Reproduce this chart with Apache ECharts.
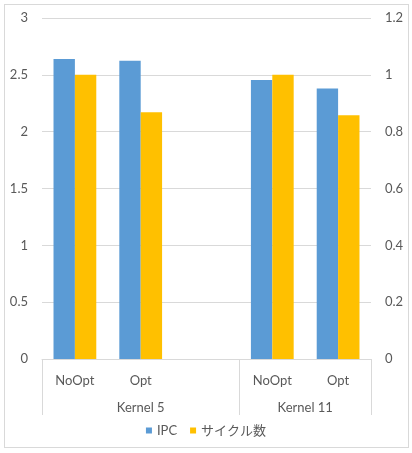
<!DOCTYPE html>
<html><head><meta charset="utf-8">
<script src="https://cdn.jsdelivr.net/npm/echarts@6/dist/echarts.min.js"></script>
<style>
html,body{margin:0;padding:0;background:#fff;}
#wrap{position:relative;width:412px;height:453px;}
#c{width:412px;height:453px;}
#frame{position:absolute;left:4px;top:4px;width:403px;height:442px;border:1px solid #d9d9d9;pointer-events:none;}
</style></head>
<body>
<div id="wrap"><div id="c"></div><div id="frame"></div></div>
<script>
const categories = ['NoOpt', 'Opt', '', 'NoOpt', 'Opt'];
const groupNames = ['Kernel 5', 'Kernel 11'];
const groupBounds = [0, 3, 5];
const groupCenters = [1.5, 4];
const ipc = [2.64, 2.625, null, 2.455, 2.38];
const cycles = [1.0, 0.868, null, 1.0, 0.858];
const leftTicks = {min: 0, max: 3, interval: 0.5};
const rightTicks = {min: 0, max: 1.2, interval: 0.2};

const font = 'Lato, "Noto Sans CJK JP", sans-serif';
const txt = '#595959';
const grid = '#d9d9d9';
const chart = echarts.init(document.getElementById('c'));
chart.setOption({
  animation: false,
  textStyle: {fontFamily: font},
  grid: {left: 42, right: 41, top: 18, bottom: 94, containLabel: false},
  legend: {
    bottom: 11, left: 'center', icon: 'rect', itemWidth: 6, itemHeight: 6, itemGap: 13,
    textStyle: {color: txt, fontSize: 13, fontFamily: font},
    data: ['IPC', 'サイクル数']
  },
  xAxis: [{
    type: 'category', data: categories, position: 'bottom',
    axisLine: {show: true, lineStyle: {color: grid}},
    axisTick: {show: false},
    axisLabel: {interval: 0, color: txt, fontSize: 13, margin: 15}
  }, {
    type: 'value', min: 0, max: 5, position: 'bottom',
    axisLine: {show: false},
    splitLine: {show: false},
    axisTick: {show: true, customValues: groupBounds, length: 56, lineStyle: {color: grid}},
    axisLabel: {
      customValues: groupCenters, color: txt, fontSize: 13, margin: 42,
      formatter: v => groupNames[groupCenters.indexOf(v)] || ''
    }
  }],
  yAxis: [{
    type: 'value', min: leftTicks.min, max: leftTicks.max, interval: leftTicks.interval,
    axisLine: {show: false}, axisTick: {show: false},
    splitLine: {lineStyle: {color: grid}},
    axisLabel: {color: txt, fontSize: 13, margin: 14}
  }, {
    type: 'value', min: rightTicks.min, max: rightTicks.max, interval: rightTicks.interval,
    axisLine: {show: false}, axisTick: {show: false},
    splitLine: {show: false},
    axisLabel: {color: txt, fontSize: 13, margin: 14, formatter: v => String(+v.toFixed(1))}
  }],
  series: [{
    name: 'IPC', type: 'bar', xAxisIndex: 0, yAxisIndex: 0, data: ipc,
    itemStyle: {color: '#5B9BD5'}, barGap: '0%', barCategoryGap: '35%'
  }, {
    name: 'サイクル数', type: 'bar', xAxisIndex: 0, yAxisIndex: 1, data: cycles,
    itemStyle: {color: '#FFC000'}, barGap: '0%', barCategoryGap: '35%'
  }]
});
</script>
</body></html>
